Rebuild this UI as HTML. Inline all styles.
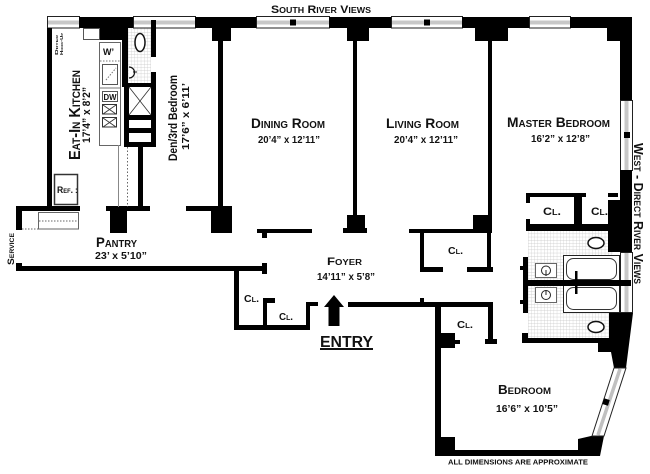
<!DOCTYPE html>
<html><head><meta charset="utf-8"><style>
html,body{margin:0;padding:0;background:#fff;}
svg{display:block;}
text{font-family:"Liberation Sans",sans-serif;font-weight:bold;fill:#111;}
.sc{font-variant:small-caps;}
</style></head><body>
<svg width="650" height="474" viewBox="0 0 650 474" xmlns="http://www.w3.org/2000/svg">
<defs>
<pattern id="tile" width="3.2" height="3.2" patternUnits="userSpaceOnUse">
<path d="M0 0H3.2M0 0V3.2" stroke="#c4c4c4" stroke-width="0.6" fill="none"/>
</pattern>
</defs>
<rect width="650" height="474" fill="#fff"/>

<!-- tile areas -->
<rect x="128" y="28" width="23" height="55" fill="url(#tile)"/>
<rect x="528" y="231" width="85" height="107" fill="url(#tile)"/>

<!-- top windows -->
<g stroke="#222" stroke-width="1" fill="#fff">
<rect x="47.5" y="16.5" width="32" height="11.5"/>
<rect x="133.5" y="16.5" width="62" height="11.5"/>
<rect x="256.5" y="16.5" width="73" height="11.5"/>
<rect x="391.5" y="16.5" width="71" height="11.5"/>
<rect x="529.5" y="16.5" width="41" height="11.5"/>
</g>
<g fill="#c8c8c8">
<rect x="48" y="20.5" width="31" height="4"/>
<rect x="134" y="20.5" width="61" height="4"/>
<rect x="257" y="20.5" width="72" height="4"/>
<rect x="392" y="20.5" width="70" height="4"/>
<rect x="530" y="20.5" width="40" height="4"/>
</g>
<rect x="290" y="19.5" width="6" height="6" fill="#000"/>
<rect x="424" y="19.5" width="6" height="6" fill="#000"/>

<!-- right window master -->
<rect x="620.5" y="100.5" width="12" height="70" fill="#fff" stroke="#222"/>
<rect x="624.5" y="101" width="4" height="69" fill="#c8c8c8"/>
<rect x="624" y="132" width="6" height="6" fill="#000"/>

<!-- tub window -->
<rect x="620.5" y="252.5" width="12" height="60" fill="#fff" stroke="#222"/>
<rect x="624.5" y="253" width="4" height="59" fill="#c8c8c8"/>

<!-- walls -->
<g fill="#000">
<rect x="79" y="17" width="54" height="11"/>
<rect x="195" y="17" width="61" height="11"/>
<rect x="329" y="17" width="62" height="11"/>
<rect x="462" y="17" width="67" height="11"/>
<rect x="570" y="17" width="62" height="11"/>
<!-- kitchen -->
<rect x="47" y="28" width="5" height="183"/>
<rect x="100" y="28" width="28" height="12"/>
<rect x="122" y="28" width="6" height="59"/>
<rect x="124" y="83" width="32" height="64"/>
<rect x="151" y="20" width="5" height="37"/>
<rect x="151" y="72" width="5" height="75"/>
<rect x="138" y="147" width="5" height="60"/>
<!-- piers top -->
<rect x="212" y="28" width="19" height="13"/>
<rect x="347" y="28" width="22" height="13"/>
<rect x="475" y="28" width="33" height="13"/>
<rect x="607" y="17" width="25" height="24"/>
<!-- interior long walls -->
<rect x="218" y="41" width="5" height="170"/>
<rect x="353" y="41" width="4" height="176"/>
<rect x="488" y="41" width="4" height="176"/>
<!-- right exterior -->
<rect x="620" y="28" width="12" height="72"/>
<rect x="620" y="170" width="12" height="82"/>
<rect x="608" y="200" width="24" height="52"/>
<rect x="608" y="193" width="10" height="4"/>
<!-- bottom row of upper rooms -->
<rect x="16" y="206" width="64" height="5"/>
<rect x="16" y="206" width="6" height="24"/>
<rect x="106" y="206" width="44" height="5"/>
<rect x="110" y="206" width="17" height="27"/>
<rect x="186" y="206" width="46" height="5"/>
<rect x="211" y="206" width="21" height="27"/>
<rect x="257" y="229" width="55" height="4"/>
<rect x="262" y="233" width="5" height="5"/>
<rect x="347" y="215" width="18" height="14"/>
<rect x="343" y="228" width="24" height="5"/>
<rect x="409" y="229" width="83" height="4"/>
<rect x="473" y="215" width="19" height="18"/>
<!-- living closet -->
<rect x="420" y="233" width="4" height="39"/>
<rect x="420" y="267" width="23" height="5"/>
<rect x="467" y="267" width="26" height="5"/>
<rect x="487" y="233" width="4" height="39"/>
<!-- master closets -->
<rect x="526" y="193" width="60" height="4"/>
<rect x="526" y="193" width="4" height="10"/>
<rect x="574" y="193" width="8" height="32"/>
<rect x="526" y="224" width="87" height="7"/>
<rect x="526" y="219" width="4" height="12"/>
<!-- bath -->
<rect x="523" y="257" width="5" height="56"/>
<rect x="520" y="266" width="6" height="4"/>
<rect x="520" y="300" width="6" height="4"/>
<rect x="525" y="280" width="106" height="6"/>
<rect x="522" y="338" width="91" height="5"/>
<rect x="522" y="333" width="6" height="10"/>
<!-- pantry -->
<rect x="16" y="266" width="251" height="5"/>
<rect x="16" y="263" width="6" height="8"/>
<rect x="262" y="263" width="5" height="11"/>
<!-- foyer closets -->
<rect x="234" y="266" width="5" height="64"/>
<rect x="234" y="325" width="76" height="5"/>
<rect x="263" y="298" width="4" height="27"/>
<rect x="263" y="298" width="12" height="5"/>
<rect x="306" y="302" width="4" height="28"/>
<rect x="306" y="302" width="12" height="4"/>
<!-- foyer bottom / bedroom -->
<rect x="348" y="302" width="145" height="5"/>
<rect x="420" y="298" width="4" height="4"/>
<rect x="435" y="302" width="6" height="154"/>
<rect x="435" y="450" width="165" height="6"/>
<rect x="441" y="333" width="14" height="15"/>
<rect x="455" y="340" width="5" height="4"/>
<rect x="441" y="437" width="14" height="13"/>
<rect x="488" y="302" width="5" height="41"/>
<rect x="485" y="339" width="12" height="5"/>
<!-- diagonal exterior -->
<polygon points="609,313 633,313 626,368 614,368 611,352 598,352 598,340 609,340"/>
<polygon points="578,439 591,436 604,436 600,456 578,456"/>
</g>

<!-- diagonal window -->
<polygon points="614,368 626,368 604,436 592,436" fill="#fff" stroke="#222" stroke-width="1"/>
<line x1="620" y1="369" x2="598" y2="435" stroke="#c0c0c0" stroke-width="3.5"/>
<rect x="603" y="399" width="6" height="6" fill="#000" transform="rotate(17 606 402)"/>

<!-- tubs -->
<rect x="563.5" y="255.5" width="56" height="57" fill="#fff" stroke="#222"/>
<rect x="525" y="280" width="106" height="6" fill="#000"/>
<rect x="566.5" y="258.5" width="50" height="21" rx="7" fill="#fff" stroke="#333"/>
<rect x="566.5" y="287.5" width="50" height="22" rx="7" fill="#fff" stroke="#333"/>
<rect x="575" y="271" width="2.5" height="23" fill="#000"/>
<!-- sinks -->
<rect x="535.5" y="263.5" width="21" height="14" fill="#fff" stroke="#666"/>
<rect x="535.5" y="287.5" width="21" height="15" fill="#fff" stroke="#666"/>
<circle cx="546" cy="270.5" r="4.5" fill="none" stroke="#222"/>
<circle cx="546" cy="295" r="4.5" fill="none" stroke="#222"/>
<line x1="546" y1="270" x2="546" y2="276" stroke="#222"/>
<line x1="546" y1="290" x2="546" y2="295" stroke="#222"/>
<!-- toilets -->
<ellipse cx="596" cy="243" rx="8" ry="5.5" fill="#fff" stroke="#111" stroke-width="1.5"/>
<ellipse cx="596" cy="327" rx="8" ry="5.5" fill="#fff" stroke="#111" stroke-width="1.5"/>
<ellipse cx="140" cy="42.5" rx="5" ry="9" fill="#fff" stroke="#111" stroke-width="1.5"/>
<path d="M129 67 A5.5 5.5 0 0 1 129 78" fill="#fff" stroke="#111" stroke-width="1.2"/>
<line x1="133" y1="72" x2="137" y2="72" stroke="#111"/>

<!-- shower / den closet -->
<rect x="129" y="87" width="22" height="28" fill="#fff"/>
<path d="M129 87 L151 115 M151 87 L129 115" stroke="#333" stroke-width="0.8"/>
<rect x="129" y="120" width="22" height="8" fill="#fff"/>
<rect x="129" y="133" width="22" height="9" fill="#fff"/>

<!-- kitchen fixtures -->
<rect x="83.5" y="28.5" width="16" height="11" fill="#fff" stroke="#555"/>
<rect x="99.5" y="42.5" width="21" height="103" fill="#fff" stroke="#666"/>
<line x1="100" y1="61" x2="120" y2="61" stroke="#777" stroke-dasharray="1.5 1.5"/>
<rect x="102.5" y="64.5" width="15" height="20" fill="#fff" stroke="#555"/>
<path d="M106 80 L116 68" stroke="#777" stroke-dasharray="1.5 1.5"/>
<line x1="100" y1="88" x2="120" y2="88" stroke="#777"/>
<rect x="102.5" y="91.5" width="15" height="10" fill="#fff" stroke="#555"/>
<rect x="102.5" y="104.5" width="14" height="9.5" fill="#fff" stroke="#333"/>
<rect x="102.5" y="117.5" width="14" height="9.5" fill="#fff" stroke="#333"/>
<path d="M103 105 L116 114 M116 105 L103 114 M103 118 L116 127 M116 118 L103 127" stroke="#333" stroke-width="0.8"/>
<line x1="118.5" y1="145" x2="118.5" y2="207" stroke="#888"/>
<line x1="127.5" y1="147" x2="127.5" y2="207" stroke="#666" stroke-dasharray="1.5 2"/>
<rect x="54.5" y="174.5" width="23" height="30" fill="#fff" stroke="#333" stroke-width="1.5"/>
<rect x="38.5" y="212.5" width="40" height="16.5" fill="#fff" stroke="#666"/>
<line x1="39" y1="221" x2="78" y2="221" stroke="#666" stroke-dasharray="1.5 1.5"/>
<line x1="22" y1="229" x2="38" y2="229" stroke="#666" stroke-dasharray="1.5 1.5"/>

<!-- entry arrow -->
<polygon points="334,295 344,307 339.5,307 339.5,326 328.5,326 328.5,307 324,307" fill="#000"/>

<!-- labels -->
<text class="sc" x="271" y="13" font-size="11" textLength="100" lengthAdjust="spacingAndGlyphs">South River Views</text>
<text class="sc" x="251" y="128" font-size="14" textLength="74" lengthAdjust="spacingAndGlyphs">Dining Room</text>
<text x="258" y="143" font-size="10" textLength="62" lengthAdjust="spacingAndGlyphs">20’4” x 12’11”</text>
<text class="sc" x="386" y="128" font-size="14" textLength="73" lengthAdjust="spacingAndGlyphs">Living Room</text>
<text x="394" y="143" font-size="10" textLength="64" lengthAdjust="spacingAndGlyphs">20’4” x 12’11”</text>
<text class="sc" x="507" y="127" font-size="14" textLength="103" lengthAdjust="spacingAndGlyphs">Master Bedroom</text>
<text x="531" y="142" font-size="10" textLength="59" lengthAdjust="spacingAndGlyphs">16’2” x 12’8”</text>
<text class="sc" x="327" y="265" font-size="11" textLength="35" lengthAdjust="spacingAndGlyphs">Foyer</text>
<text x="317" y="280" font-size="10" textLength="58" lengthAdjust="spacingAndGlyphs">14’11” x 5’8”</text>
<text class="sc" x="96" y="247" font-size="14" textLength="41" lengthAdjust="spacingAndGlyphs">Pantry</text>
<text x="95" y="259" font-size="10" textLength="52" lengthAdjust="spacingAndGlyphs">23’ x 5’10”</text>
<text class="sc" x="498" y="394" font-size="12.5" textLength="53" lengthAdjust="spacingAndGlyphs">Bedroom</text>
<text x="496" y="412" font-size="10" textLength="62" lengthAdjust="spacingAndGlyphs">16’6” x 10’5”</text>
<text class="sc" x="543" y="215" font-size="11" textLength="18" lengthAdjust="spacingAndGlyphs">Cl.</text>
<text class="sc" x="591" y="215" font-size="11" textLength="17" lengthAdjust="spacingAndGlyphs">Cl.</text>
<text class="sc" x="448" y="254" font-size="10" textLength="15" lengthAdjust="spacingAndGlyphs">Cl.</text>
<text class="sc" x="457" y="328" font-size="10" textLength="16" lengthAdjust="spacingAndGlyphs">Cl.</text>
<text class="sc" x="244" y="302" font-size="10" textLength="15" lengthAdjust="spacingAndGlyphs">Cl.</text>
<text class="sc" x="279" y="320" font-size="10" textLength="14" lengthAdjust="spacingAndGlyphs">Cl.</text>
<text x="320" y="347" font-size="16" textLength="53" lengthAdjust="spacingAndGlyphs">ENTRY</text>
<rect x="320" y="348" width="53" height="2" fill="#111"/>
<text x="448" y="464.5" font-size="7.5" textLength="140" lengthAdjust="spacingAndGlyphs">ALL DIMENSIONS ARE APPROXIMATE</text>
<text x="103" y="55" font-size="9">W’</text>
<text x="103.5" y="100" font-size="8.5" textLength="13" lengthAdjust="spacingAndGlyphs">DW</text>
<text class="sc" x="57" y="193" font-size="9" textLength="16" lengthAdjust="spacingAndGlyphs">Ref.</text>
<text x="75" y="193" font-size="8">:</text>

<!-- rotated labels -->
<text class="sc" transform="translate(80,160) rotate(-90)" font-size="16" textLength="90" lengthAdjust="spacingAndGlyphs">Eat-In Kitchen</text>
<text transform="translate(90,143) rotate(-90)" font-size="11" textLength="56" lengthAdjust="spacingAndGlyphs">17’4” x 8’2”</text>
<text transform="translate(177,161) rotate(-90)" font-size="12" textLength="86" lengthAdjust="spacingAndGlyphs">Den/3rd Bedroom</text>
<text transform="translate(189,150) rotate(-90)" font-size="10.5" textLength="67" lengthAdjust="spacingAndGlyphs">17’6” x 6’11’</text>
<text class="sc" transform="translate(14,265) rotate(-90)" font-size="9" textLength="32" lengthAdjust="spacingAndGlyphs">Service</text>
<text class="sc" transform="translate(634,143) rotate(90)" font-size="13" textLength="141" lengthAdjust="spacingAndGlyphs">West - Direct River Views</text>
<text class="sc" transform="translate(58,55) rotate(-90)" font-size="4.5" textLength="20" lengthAdjust="spacingAndGlyphs">Dryer</text>
<text class="sc" transform="translate(63,55) rotate(-90)" font-size="4.5" textLength="22" lengthAdjust="spacingAndGlyphs">Hook-Up</text>
</svg>
</body></html>
